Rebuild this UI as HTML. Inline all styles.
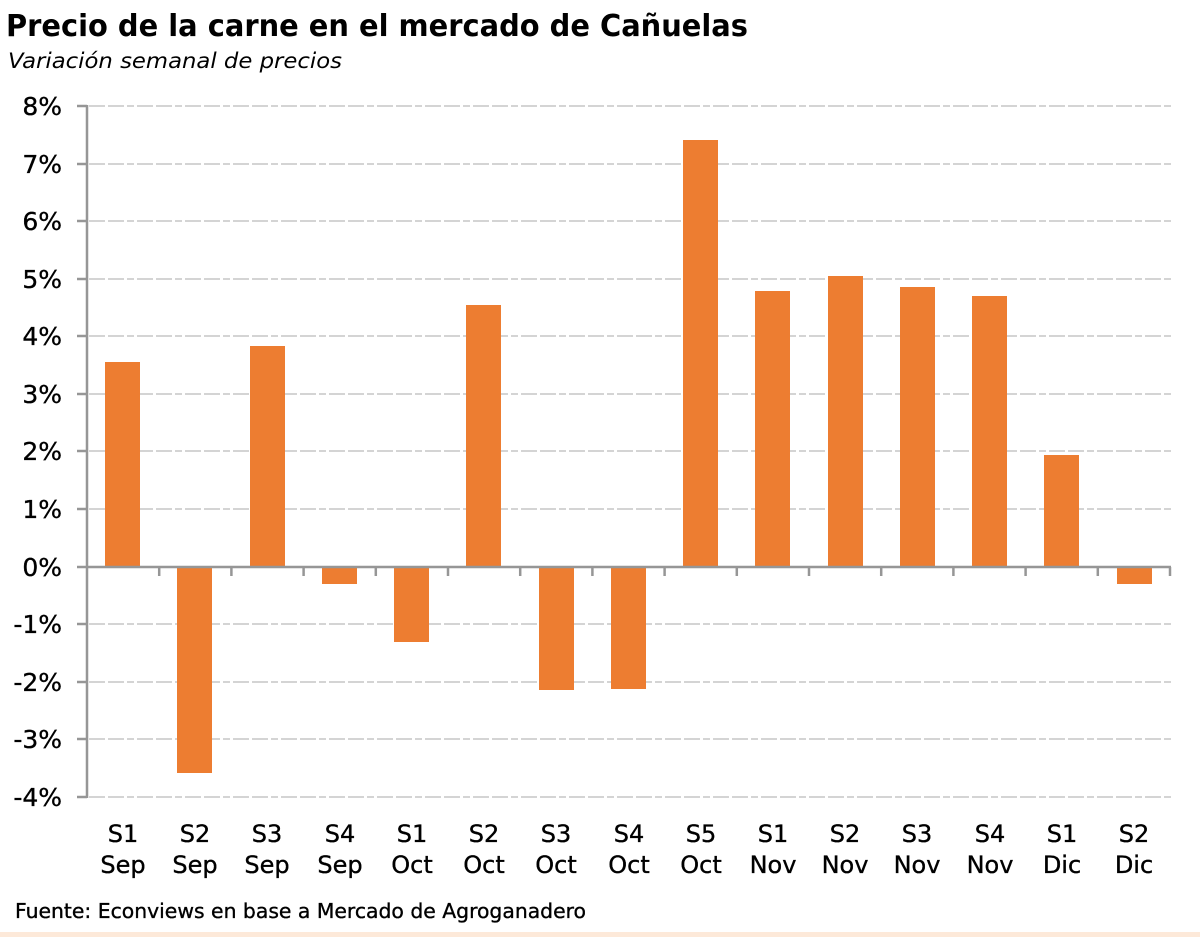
<!DOCTYPE html>
<html><head><meta charset="utf-8"><style>
html,body{margin:0;padding:0;background:#fff;}
svg{display:block;}
text{font-family:"DejaVu Sans","Liberation Sans",sans-serif;fill:#000;}
.w{stroke:#000;stroke-width:0.35px;}
</style></head><body>
<svg width="1200" height="937" viewBox="0 0 1200 937" xmlns="http://www.w3.org/2000/svg">
<rect x="0" y="0" width="1200" height="937" fill="#fff"/>
<rect x="0" y="932" width="1200" height="5" fill="#fde9d9"/>
<text x="6" y="36" font-size="30" font-weight="bold" textLength="742" lengthAdjust="spacingAndGlyphs">Precio de la carne en el mercado de Cañuelas</text>
<text x="8" y="68" font-size="21.5" font-style="italic" textLength="334" lengthAdjust="spacingAndGlyphs">Variación semanal de precios</text>
<g stroke="#d4d4d4" stroke-width="2" stroke-dasharray="16 3 16 3 7 3" fill="none">
<line x1="89" y1="106" x2="1171" y2="106"/>
<line x1="89" y1="164" x2="1171" y2="164"/>
<line x1="89" y1="221" x2="1171" y2="221"/>
<line x1="89" y1="279" x2="1171" y2="279"/>
<line x1="89" y1="336" x2="1171" y2="336"/>
<line x1="89" y1="394" x2="1171" y2="394"/>
<line x1="89" y1="451" x2="1171" y2="451"/>
<line x1="89" y1="509" x2="1171" y2="509"/>
<line x1="89" y1="624" x2="1171" y2="624"/>
<line x1="89" y1="682" x2="1171" y2="682"/>
<line x1="89" y1="739" x2="1171" y2="739"/>
<line x1="89" y1="797" x2="1171" y2="797"/>
</g>
<g fill="#ed7d31">
<rect x="105" y="362" width="35" height="205"/>
<rect x="177" y="567" width="35" height="206"/>
<rect x="250" y="346" width="35" height="221"/>
<rect x="322" y="567" width="35" height="17"/>
<rect x="394" y="567" width="35" height="75"/>
<rect x="466" y="305" width="35" height="262"/>
<rect x="539" y="567" width="35" height="123"/>
<rect x="611" y="567" width="35" height="122"/>
<rect x="683" y="140" width="35" height="427"/>
<rect x="755" y="291" width="35" height="276"/>
<rect x="828" y="276" width="35" height="291"/>
<rect x="900" y="287" width="35" height="280"/>
<rect x="972" y="296" width="35" height="271"/>
<rect x="1044" y="455" width="35" height="112"/>
<rect x="1117" y="567" width="35" height="17"/>
</g>
<g stroke="#969696" stroke-width="2.5" fill="none">
<line x1="87" y1="105" x2="87" y2="798"/>
<line x1="77" y1="106" x2="87" y2="106"/>
<line x1="77" y1="164" x2="87" y2="164"/>
<line x1="77" y1="221" x2="87" y2="221"/>
<line x1="77" y1="279" x2="87" y2="279"/>
<line x1="77" y1="336" x2="87" y2="336"/>
<line x1="77" y1="394" x2="87" y2="394"/>
<line x1="77" y1="451" x2="87" y2="451"/>
<line x1="77" y1="509" x2="87" y2="509"/>
<line x1="77" y1="567" x2="87" y2="567"/>
<line x1="77" y1="624" x2="87" y2="624"/>
<line x1="77" y1="682" x2="87" y2="682"/>
<line x1="77" y1="739" x2="87" y2="739"/>
<line x1="77" y1="797" x2="87" y2="797"/>
<line x1="87" y1="567" x2="1171" y2="567"/>
<line x1="159.2" y1="567" x2="159.2" y2="576"/>
<line x1="231.4" y1="567" x2="231.4" y2="576"/>
<line x1="303.6" y1="567" x2="303.6" y2="576"/>
<line x1="375.8" y1="567" x2="375.8" y2="576"/>
<line x1="448" y1="567" x2="448" y2="576"/>
<line x1="520.2" y1="567" x2="520.2" y2="576"/>
<line x1="592.4" y1="567" x2="592.4" y2="576"/>
<line x1="664.6" y1="567" x2="664.6" y2="576"/>
<line x1="736.8" y1="567" x2="736.8" y2="576"/>
<line x1="809" y1="567" x2="809" y2="576"/>
<line x1="881.2" y1="567" x2="881.2" y2="576"/>
<line x1="953.4" y1="567" x2="953.4" y2="576"/>
<line x1="1025.6" y1="567" x2="1025.6" y2="576"/>
<line x1="1097.8" y1="567" x2="1097.8" y2="576"/>
<line x1="1170" y1="567" x2="1170" y2="576"/>
</g>
<g font-size="25" text-anchor="end" class="w">
<text x="62" y="115">8%</text>
<text x="62" y="173">7%</text>
<text x="62" y="230">6%</text>
<text x="62" y="288">5%</text>
<text x="62" y="345">4%</text>
<text x="62" y="403">3%</text>
<text x="62" y="460">2%</text>
<text x="62" y="518">1%</text>
<text x="62" y="576">0%</text>
<text x="62" y="633">-1%</text>
<text x="62" y="691">-2%</text>
<text x="62" y="748">-3%</text>
<text x="62" y="806">-4%</text>
</g>
<g font-size="24" text-anchor="middle" class="w">
<text x="123" y="842">S1</text><text x="123" y="873">Sep</text>
<text x="195" y="842">S2</text><text x="195" y="873">Sep</text>
<text x="267" y="842">S3</text><text x="267" y="873">Sep</text>
<text x="340" y="842">S4</text><text x="340" y="873">Sep</text>
<text x="412" y="842">S1</text><text x="412" y="873">Oct</text>
<text x="484" y="842">S2</text><text x="484" y="873">Oct</text>
<text x="556" y="842">S3</text><text x="556" y="873">Oct</text>
<text x="629" y="842">S4</text><text x="629" y="873">Oct</text>
<text x="701" y="842">S5</text><text x="701" y="873">Oct</text>
<text x="773" y="842">S1</text><text x="773" y="873">Nov</text>
<text x="845" y="842">S2</text><text x="845" y="873">Nov</text>
<text x="917" y="842">S3</text><text x="917" y="873">Nov</text>
<text x="990" y="842">S4</text><text x="990" y="873">Nov</text>
<text x="1062" y="842">S1</text><text x="1062" y="873">Dic</text>
<text x="1134" y="842">S2</text><text x="1134" y="873">Dic</text>
</g>
<text x="15" y="918" font-size="20.5" class="w" textLength="571" lengthAdjust="spacingAndGlyphs">Fuente: Econviews en base a Mercado de Agroganadero</text>
</svg>
</body></html>
